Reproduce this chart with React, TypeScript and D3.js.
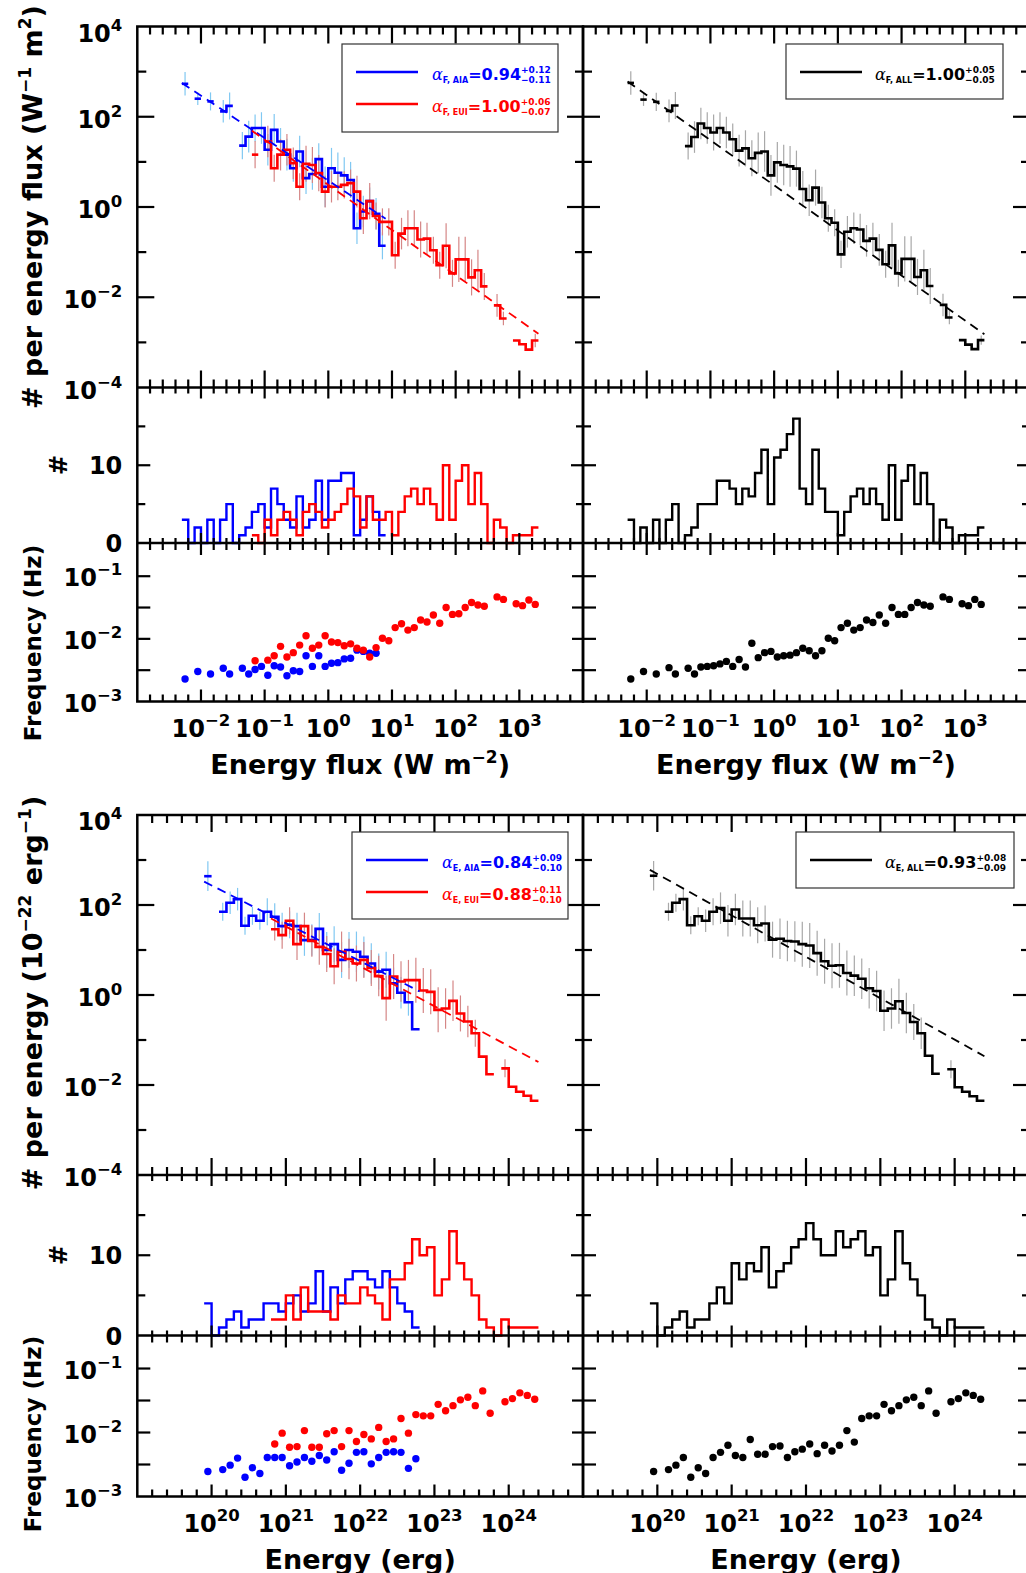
import * as d3 from 'd3';
import React from 'react';

const BIN = 0.1;
const MINUS = '\u2212';

// ---------- top block: energy flux (log10 W m^-2), bins of 0.1 dex ----------
const fluxStartAIA = -2.3;
const fluxStartEUI = -1.2;
const fluxStartALL = -2.3;

// log10 of # per energy flux
const fluxSpecAIA = [2.73, null, 2.40, null, 2.34, null, 2.12, 2.24, null, 1.36, 1.56, 1.75, 1.75, 1.27, 1.71, 1.45, 1.16, 0.86, 1.23, 0.64, 0.73, 1.06, 0.45, 0.86, 0.76, 0.70, 0.60, -0.47, -0.10, 0.13, -0.15, -0.86];
const fluxSpecEUI = [1.16, null, 1.45, 0.86, 1.16, 1.27, 0.97, 0.45, 0.96, 0.93, 0.75, 0.34, 0.45, 0.45, 0.49, 0.53, 0.34, -0.25, 0.13, -0.20, -0.33, -0.33, -1.07, -0.59, -0.47, -0.47, -0.72, -0.70, -0.96, -1.29, -0.86, -1.47, -1.16, -1.16, -1.56, -1.40, -1.76, null, -2.18, -2.47, null, -2.96, -3.04, -3.16, -2.96];
const fluxSpecALL = [2.75, null, 2.38, null, 2.33, null, 2.13, 2.25, null, 1.35, 1.55, 1.85, 1.75, 1.65, 1.75, 1.65, 1.50, 1.25, 1.30, 1.08, 1.20, 1.23, 0.70, 0.99, 0.93, 0.90, 0.85, 0.40, 0.15, 0.43, 0.10, -0.25, -0.35, -1.05, -0.55, -0.47, -0.50, -0.75, -0.70, -0.95, -1.27, -0.85, -1.47, -1.15, -1.15, -1.55, -1.40, -1.75, null, -2.17, -2.45, null, -2.95, -3.05, -3.15, -2.95];

// error bar half lengths (dex)
const fluxErrAIA = [0.26, 0, 0.14, 0, 0.2, 0, 0.25, 0.3, 0, 0.3, 0.35, 0.3, 0.35, 0.35, 0.35, 0.3, 0.35, 0.3, 0.35, 0.35, 0.35, 0.35, 0.45, 0.45, 0.45, 0.4, 0.4, 0.35, 0.35, 0.3, 0.35, 0.3];
const fluxErrEUI = [0.3, 0, 0.35, 0.3, 0.35, 0.35, 0.35, 0.3, 0.4, 0.4, 0.4, 0.35, 0.35, 0.3, 0.3, 0.3, 0.35, 0.35, 0.4, 0.3, 0.3, 0.3, 0.3, 0.35, 0.4, 0.4, 0.4, 0.35, 0.3, 0.3, 0.5, 0.3, 0.5, 0.5, 0.4, 0.45, 0.3, 0, 0.25, 0.15, 0, 0, 0, 0, 0.15];
const fluxErrALL = [0.26, 0, 0.14, 0, 0.2, 0, 0.25, 0.3, 0, 0.3, 0.35, 0.35, 0.35, 0.4, 0.35, 0.35, 0.35, 0.35, 0.4, 0.4, 0.45, 0.45, 0.45, 0.45, 0.45, 0.45, 0.4, 0.4, 0.35, 0.4, 0.35, 0.3, 0.3, 0.3, 0.35, 0.35, 0.35, 0.35, 0.35, 0.35, 0.3, 0.5, 0.3, 0.5, 0.5, 0.4, 0.45, 0.4, 0, 0.25, 0.15, 0, 0, 0, 0, 0.1];

// number of events per bin
const fluxCountAIA = [3, 0, 2, 0, 3, 0, 3, 5, 0, 1, 2, 4, 5, 2, 7, 5, 3, 2, 6, 2, 3, 8, 3, 8, 8, 9, 9, 1, 3, 6, 4, 1];
const fluxCountEUI = [1, 0, 3, 1, 3, 4, 3, 1, 4, 5, 4, 2, 3, 4, 5, 7, 6, 2, 6, 3, 3, 4, 1, 4, 6, 7, 5, 7, 5, 3, 10, 3, 8, 10, 5, 9, 5, 0, 3, 2, 0, 1, 1, 1, 2];
const fluxCountALL = [3, 0, 2, 0, 3, 0, 3, 5, 0, 1, 2, 5, 5, 5, 8, 8, 7, 5, 7, 6, 9, 12, 5, 11, 12, 14, 16, 7, 5, 12, 7, 4, 4, 1, 4, 6, 7, 5, 7, 5, 3, 10, 3, 8, 10, 5, 9, 5, 0, 3, 2, 0, 1, 1, 1, 2];

// log10 frequency (Hz)
const fluxFreqAIA = [-2.64, null, -2.52, null, -2.56, null, -2.47, -2.56, null, -2.47, -2.56, -2.49, -2.44, -2.58, -2.43, -2.45, -2.59, -2.51, -2.52, -2.27, -2.44, -2.27, -2.44, -2.39, -2.38, -2.32, -2.31, -2.18, -2.20, -2.23, -2.23, null];
const fluxFreqEUI = [-2.35, null, -2.34, -2.27, -2.12, -2.29, -2.22, -2.10, -1.95, -2.15, -2.10, -1.95, -2.05, -2.06, -2.11, -2.08, -2.15, -2.18, -2.29, -2.14, -1.99, -2.03, -1.82, -1.76, -1.86, -1.82, -1.70, -1.73, -1.62, -1.75, -1.50, -1.61, -1.60, -1.50, -1.42, -1.46, -1.48, null, -1.33, -1.37, null, -1.44, -1.47, -1.38, -1.45];
const fluxFreqALL = [-2.64, null, -2.52, null, -2.56, null, -2.46, -2.56, null, -2.47, -2.56, -2.45, -2.44, -2.43, -2.40, -2.36, -2.44, -2.33, -2.45, -2.07, -2.30, -2.22, -2.20, -2.29, -2.27, -2.26, -2.22, -2.15, -2.19, -2.27, -2.19, -1.99, -2.03, -1.82, -1.75, -1.86, -1.82, -1.70, -1.74, -1.62, -1.75, -1.50, -1.61, -1.61, -1.50, -1.42, -1.46, -1.48, null, -1.33, -1.37, null, -1.44, -1.47, -1.37, -1.45];

// power-law fits: [log x, log y] end points
const fluxFitAIA = [[-2.3, 2.75], [0.9, -0.26]];
const fluxFitEUI = [[-1.2, 1.69], [3.3, -2.81]];
const fluxFitALL = [[-2.3, 2.78], [3.3, -2.82]];

// ---------- bottom block: energy (log10 erg) ----------
const energyStartAIA = 19.9;
const energyStartEUI = 20.8;
const energyStartALL = 19.9;

const energySpecAIA = [2.64, null, 1.85, 2.05, 2.13, 1.54, 1.76, 1.65, 1.85, 1.74, 1.53, 1.56, 1.53, 1.22, 1.22, 1.47, 1.00, 1.13, 0.78, 1.00, 0.96, 0.85, 0.70, 0.52, 0.56, 0.26, 0.05, -0.16, -0.76];
const energySpecEUI = [1.46, 1.33, 1.65, 1.13, 1.53, 1.20, 1.07, 0.91, 0.64, 0.96, 0.80, 0.70, 0.78, 0.60, 0.42, -0.07, 0.41, 0.30, 0.33, 0.33, 0.10, 0.07, -0.33, -0.30, -0.13, -0.41, -0.59, -0.85, -1.37, -1.76, null, -1.63, -2.04, -2.15, -2.24, -2.35];
const energySpecALL = [2.65, null, 1.85, 2.05, 2.13, 1.55, 1.75, 1.65, 1.85, 1.93, 1.65, 1.90, 1.70, 1.70, 1.55, 1.59, 1.23, 1.25, 1.20, 1.19, 1.13, 1.10, 0.93, 0.75, 0.65, 0.66, 0.49, 0.43, 0.36, 0.15, 0.09, -0.35, -0.30, -0.14, -0.40, -0.60, -0.85, -1.35, -1.75, null, -1.65, -2.05, -2.15, -2.25, -2.35];

const energyErrAIA = [0.33, 0, 0.2, 0.25, 0.25, 0.2, 0.2, 0.2, 0.3, 0.3, 0.3, 0.3, 0.3, 0.35, 0.35, 0.35, 0.4, 0.4, 0.4, 0.4, 0.45, 0.45, 0.45, 0.4, 0.4, 0.35, 0.35, 0.3, 0];
const energyErrEUI = [0.25, 0.3, 0.3, 0.35, 0.3, 0.35, 0.4, 0.4, 0.4, 0.45, 0.45, 0.4, 0.4, 0.4, 0.45, 0.5, 0.5, 0.45, 0.45, 0.5, 0.5, 0.5, 0.5, 0.45, 0.45, 0.4, 0.35, 0.3, 0, 0, 0, 0.2, 0, 0, 0, 0];
const energyErrALL = [0.33, 0, 0.2, 0.2, 0.25, 0.2, 0.2, 0.25, 0.3, 0.35, 0.35, 0.35, 0.4, 0.4, 0.4, 0.4, 0.4, 0.45, 0.45, 0.45, 0.5, 0.5, 0.5, 0.5, 0.5, 0.5, 0.5, 0.45, 0.45, 0.45, 0.45, 0.45, 0.45, 0.5, 0.45, 0.4, 0.35, 0, 0, 0, 0.2, 0, 0, 0, 0];

const energyCountAIA = [4, 0, 1, 2, 3, 1, 2, 2, 4, 4, 3, 4, 5, 3, 4, 8, 3, 6, 4, 7, 8, 8, 7, 6, 8, 6, 4, 3, 1];
const energyCountEUI = [2, 2, 5, 2, 6, 3, 3, 3, 2, 5, 4, 4, 6, 5, 4, 2, 7, 7, 9, 12, 10, 11, 5, 7, 13, 9, 7, 5, 2, 1, 0, 2, 1, 1, 1, 1];
const energyCountALL = [4, 0, 1, 2, 3, 1, 2, 2, 4, 6, 4, 9, 7, 9, 8, 11, 6, 8, 9, 11, 12, 14, 12, 10, 10, 13, 11, 12, 13, 10, 11, 5, 7, 13, 9, 7, 5, 2, 1, 0, 2, 1, 1, 1, 1];

const energyFreqAIA = [-2.61, null, -2.58, -2.51, -2.40, -2.70, -2.55, -2.64, -2.39, -2.39, -2.39, -2.52, -2.46, -2.39, -2.45, -2.36, -2.43, -2.30, -2.59, -2.48, -2.31, -2.30, -2.49, -2.39, -2.31, -2.30, -2.31, -2.56, -2.41];
const energyFreqEUI = [-2.18, -2.01, -2.23, -2.22, -1.97, -2.23, -2.23, -2.02, -1.97, -2.22, -1.97, -2.14, -2.03, -2.10, -1.92, -2.14, -2.10, -1.78, -2.01, -1.72, -1.74, -1.74, -1.56, -1.66, -1.58, -1.49, -1.45, -1.58, -1.35, -1.70, null, -1.52, -1.47, -1.38, -1.42, -1.48];
const energyFreqALL = [-2.61, null, -2.58, -2.51, -2.39, -2.70, -2.55, -2.64, -2.39, -2.31, -2.20, -2.36, -2.39, -2.11, -2.34, -2.34, -2.22, -2.21, -2.39, -2.30, -2.26, -2.18, -2.33, -2.20, -2.29, -2.20, -1.97, -2.15, -1.78, -1.74, -1.74, -1.56, -1.66, -1.58, -1.49, -1.45, -1.58, -1.35, -1.70, null, -1.52, -1.47, -1.38, -1.42, -1.48];

const energyFitAIA = [[19.9, 2.52], [22.8, 0.08]];
const energyFitEUI = [[20.8, 1.70], [24.4, -1.49]];
const energyFitALL = [[19.9, 2.78], [24.4, -1.36]];

// ---------- labels ----------
const fluxTickExps = [-2, -1, 0, 1, 2, 3];
const energyTickExps = [20, 21, 22, 23, 24];
const specTickExps = [4, 2, 0, -2, -4];
const histTickLabels = [10, 0];
const freqTickExps = [-1, -2, -3];

const legendFlux = [
  { sub: 'F, AIA', val: '=0.94', up: '+0.12', dn: MINUS + '0.11' },
  { sub: 'F, EUI', val: '=1.00', up: '+0.06', dn: MINUS + '0.07' },
];
const legendFluxAll = [{ sub: 'F, ALL', val: '=1.00', up: '+0.05', dn: MINUS + '0.05' }];
const legendEnergy = [
  { sub: 'E, AIA', val: '=0.84', up: '+0.09', dn: MINUS + '0.10' },
  { sub: 'E, EUI', val: '=0.88', up: '+0.11', dn: MINUS + '0.10' },
];
const legendEnergyAll = [{ sub: 'E, ALL', val: '=0.93', up: '+0.08', dn: MINUS + '0.09' }];

const FONT = "'DejaVu Sans', Verdana, sans-serif";
const BLUE = '#0000ff';
const RED = '#ff0000';

const mk = (start, spec, err, count, freq, fit, color, errColor) =>
  ({ start, spec, err, count, freq, fit, color, errColor });

const fluxAIA = mk(fluxStartAIA, fluxSpecAIA, fluxErrAIA, fluxCountAIA, fluxFreqAIA, fluxFitAIA, BLUE, '#80c8f2');
const fluxEUI = mk(fluxStartEUI, fluxSpecEUI, fluxErrEUI, fluxCountEUI, fluxFreqEUI, fluxFitEUI, RED, '#d58686');
const fluxALL = mk(fluxStartALL, fluxSpecALL, fluxErrALL, fluxCountALL, fluxFreqALL, fluxFitALL, '#000000', '#a8a8a8');
const energyAIA = mk(energyStartAIA, energySpecAIA, energyErrAIA, energyCountAIA, energyFreqAIA, energyFitAIA, BLUE, '#80c8f2');
const energyEUI = mk(energyStartEUI, energySpecEUI, energyErrEUI, energyCountEUI, energyFreqEUI, energyFitEUI, RED, '#d58686');
const energyALL = mk(energyStartALL, energySpecALL, energyErrALL, energyCountALL, energyFreqALL, energyFitALL, '#000000', '#a8a8a8');

const fmt = (e) => (e < 0 ? MINUS + Math.abs(e) : String(e));

function Pow({ x, y, e, anchor }) {
  return (
    <text x={x} y={y} textAnchor={anchor} fontFamily={FONT} fontWeight="bold" fontSize={24}>
      10<tspan dy={-11} fontSize={16.5}>{fmt(e)}</tspan>
    </text>
  );
}

function Legend({ box, entries, colors }) {
  return (
    <g>
      <rect x={box.x} y={box.y} width={box.w} height={box.h} fill="white" stroke="#333" strokeWidth={1.2} />
      {entries.map((en, i) => {
        const ly = box.y + 28 + i * 32;
        return (
          <g key={i}>
            <line x1={box.x + 14} x2={box.x + 76} y1={ly} y2={ly} stroke={colors[i]} strokeWidth={2.6} />
            <text x={box.tx} y={ly + 8} fill={colors[i]} fontFamily={FONT} fontWeight="bold">
              <tspan fontFamily="'DejaVu Serif', serif" fontStyle="italic" fontWeight="normal" fontSize={16}>α</tspan>
              <tspan fontSize={8} dy={3}>{en.sub}</tspan>
              <tspan fontSize={16} dy={-3}>{en.val}</tspan>
              <tspan fontSize={9} dy={-7}>{en.up}</tspan>
              <tspan fontSize={9} dy={10} dx={-3.306 * 9}>{en.dn}</tspan>
            </text>
          </g>
        );
      })}
    </g>
  );
}

function Panel({ rows, x0, x1, xDom, series, tickExps, xTitle, showY, legend }) {
  const xl = d3.scaleLog().domain([10 ** xDom[0], 10 ** xDom[1]]).range([x0, x1]);
  const X = (e) => xl(10 ** e);
  const ysl = d3.scaleLog().domain([1e-4, 1e4]).range([rows.spec, rows.top]);
  const YS = (e) => ysl(10 ** e);
  const yh = d3.scaleLinear().domain([0, 20]).range([rows.hist, rows.spec]);
  const yfl = d3.scaleLog().domain([1e-3, 10 ** rows.freqMax]).range([rows.freq, rows.hist]);
  const YF = (e) => yfl(10 ** e);

  const specLine = d3.line().x((d) => X(d[0])).y((d) => YS(d[1]));
  const histLine = d3.line().x((d) => X(d[0])).y((d) => yh(d[1]));

  const specRuns = (s) => {
    const runs = [];
    let cur = null;
    s.spec.forEach((v, i) => {
      if (v == null) { cur = null; return; }
      if (!cur) { cur = []; runs.push(cur); }
      const a = s.start + i * BIN;
      cur.push([a, v], [a + BIN, v]);
    });
    return runs;
  };
  const histPts = (s) => {
    const pts = [];
    s.count.forEach((c, i) => {
      const a = s.start + i * BIN;
      pts.push([a, c], [a + BIN, c]);
    });
    return pts;
  };

  const xt = d3.range(Math.round(xDom[0] * 5) + 1, Math.round(xDom[1] * 5)).map((k) => ({ e: k / 5, maj: k % 5 === 0 }));
  const xRows = [
    { y: rows.top, d: 1, a: 17, b: 8 },
    { y: rows.spec, d: -1, a: 17, b: 8 },
    { y: rows.spec, d: 1, a: 11, b: 6 },
    { y: rows.hist, d: -1, a: 10, b: 5 },
    { y: rows.hist, d: 1, a: 12, b: 7 },
    { y: rows.freq, d: -1, a: 12, b: 7 },
  ];
  const yTicks = [
    ...d3.range(-3, 4).map((e) => ({ y: YS(e), l: e % 2 === 0 ? 17 : 9, r: e % 2 === 0 ? 16 : 8 })),
    ...[5, 10, 15].map((v) => ({ y: yh(v), l: v === 10 ? 13 : 8, r: v === 10 ? 12 : 7 })),
    ...[-1, -1.5, -2, -2.5].map((e) => ({ y: YF(e), l: 13, r: 11 })),
  ];

  const cx = (x0 + x1) / 2;
  return (
    <g>
      {/* error bars */}
      {series.map((s, si) => (
        <g key={'e' + si} stroke={s.errColor} strokeWidth={1.2}>
          {s.spec.map((v, i) => (v == null || !s.err[i]) ? null : (
            <line key={i} x1={X(s.start + (i + 0.5) * BIN)} x2={X(s.start + (i + 0.5) * BIN)}
              y1={YS(v - s.err[i])} y2={YS(v + s.err[i])} />
          ))}
        </g>
      ))}
      {/* spectra */}
      {series.map((s, si) => (
        <g key={'s' + si}>
          {specRuns(s).map((r, ri) => (
            <path key={ri} d={specLine(r)} fill="none" stroke={s.color} strokeWidth={2.6} strokeLinejoin="miter" />
          ))}
        </g>
      ))}
      {series.map((s, si) => (
        <path key={'f' + si} d={specLine(s.fit)} fill="none" stroke={s.color} strokeWidth={1.8} strokeDasharray="9 6" />
      ))}
      {/* histograms */}
      {series.map((s, si) => (
        <path key={'h' + si} d={histLine(histPts(s))} fill="none" stroke={s.color} strokeWidth={2.4} />
      ))}
      {/* frequencies */}
      {series.map((s, si) => (
        <g key={'q' + si} fill={s.color}>
          {s.freq.map((v, i) => v == null ? null : (
            <circle key={i} cx={X(s.start + (i + 0.5) * BIN)} cy={YF(v)} r={3.7} />
          ))}
        </g>
      ))}
      {/* frame */}
      <g stroke="black" strokeWidth={2.5} fill="none">
        <rect x={x0} y={rows.top} width={x1 - x0} height={rows.freq - rows.top} />
        <line x1={x0} x2={x1} y1={rows.spec} y2={rows.spec} />
        <line x1={x0} x2={x1} y1={rows.hist} y2={rows.hist} />
      </g>
      <g stroke="black" strokeWidth={2.2}>
        {xRows.map((r, ri) => xt.map((t, ti) => (
          <line key={ri + '-' + ti} x1={X(t.e)} x2={X(t.e)} y1={r.y} y2={r.y + r.d * (t.maj ? r.a : r.b)} />
        )))}
        {yTicks.map((t, i) => (
          <g key={'y' + i}>
            <line x1={x0} x2={x0 + t.l} y1={t.y} y2={t.y} />
            <line x1={x1} x2={x1 - t.r} y1={t.y} y2={t.y} />
          </g>
        ))}
      </g>
      {/* tick labels */}
      {tickExps.map((e) => <Pow key={e} x={X(e)} y={rows.freq + 35.5} e={e} anchor="middle" />)}
      <text x={cx} y={rows.freq + 72} textAnchor="middle" fontFamily={FONT} fontWeight="bold" fontSize={27}>
        {xTitle}
      </text>
      {showY && specTickExps.map((e) => (
        <Pow key={'s' + e} x={x0 - 15} y={YS(e) + (e === 4 ? 15 : 11)} e={e} anchor="end" />
      ))}
      {showY && histTickLabels.map((v) => (
        <text key={'h' + v} x={x0 - 15} y={yh(v) + 9} textAnchor="end" fontFamily={FONT} fontWeight="bold" fontSize={24}>{v}</text>
      ))}
      {showY && freqTickExps.map((e) => (
        <Pow key={'f' + e} x={x0 - 15} y={YF(e) + 10} e={e} anchor="end" />
      ))}
      {legend}
    </g>
  );
}

function YTitle({ x, y, size, children }) {
  return (
    <text transform={`translate(${x},${y}) rotate(-90)`} textAnchor="middle" fontFamily={FONT} fontWeight="bold" fontSize={size}>
      {children}
    </text>
  );
}

const Sup = ({ children }) => <tspan dy={-11} fontSize={17}>{children}</tspan>;
const Base = ({ children }) => <tspan dy={11}>{children}</tspan>;

export default function App() {
  const topRows = { top: 26.5, spec: 387.5, hist: 543, freq: 701.5, freqMax: -0.47 };
  const botRows = { top: 815, spec: 1175, hist: 1335.5, freq: 1496.5, freqMax: -0.484 };
  const L = [137.3, 583];
  const R = [583, 1029];
  const fluxTitle = <>Energy flux (W m<Sup>{MINUS}2</Sup><Base>)</Base></>;
  return (
    <svg width={1026} height={1573} style={{ position: 'absolute', left: 0, top: 0, background: 'white' }}>
      <rect width={1026} height={1573} fill="white" />
      <Panel rows={topRows} x0={L[0]} x1={L[1]} xDom={[-3, 4]} series={[fluxAIA, fluxEUI]} tickExps={fluxTickExps}
        xTitle={fluxTitle} showY
        legend={<Legend box={{ x: 342, y: 44, w: 216, h: 88, tx: 432 }} entries={legendFlux} colors={[BLUE, RED]} />} />
      <Panel rows={topRows} x0={R[0]} x1={R[1]} xDom={[-3, 4]} series={[fluxALL]} tickExps={fluxTickExps}
        xTitle={fluxTitle} showY={false}
        legend={<Legend box={{ x: 786, y: 44, w: 217, h: 55, tx: 875 }} entries={legendFluxAll} colors={['#000']} />} />
      <Panel rows={botRows} x0={L[0]} x1={L[1]} xDom={[19, 25]} series={[energyAIA, energyEUI]} tickExps={energyTickExps}
        xTitle="Energy (erg)" showY
        legend={<Legend box={{ x: 352, y: 832, w: 216, h: 87, tx: 442 }} entries={legendEnergy} colors={[BLUE, RED]} />} />
      <Panel rows={botRows} x0={R[0]} x1={R[1]} xDom={[19, 25]} series={[energyALL]} tickExps={energyTickExps}
        xTitle="Energy (erg)" showY={false}
        legend={<Legend box={{ x: 796, y: 832, w: 218, h: 56, tx: 885 }} entries={legendEnergyAll} colors={['#000']} />} />

      <YTitle x={42} y={207} size={27}># per energy flux (W<Sup>{MINUS}1</Sup><Base> m</Base><Sup>2</Sup><Base>)</Base></YTitle>
      <YTitle x={67} y={465} size={24}>#</YTitle>
      <YTitle x={41} y={643} size={23}>Frequency (Hz)</YTitle>
      <YTitle x={42} y={993} size={27}># per energy (10<Sup>{MINUS}22</Sup><Base> erg</Base><Sup>{MINUS}1</Sup><Base>)</Base></YTitle>
      <YTitle x={67} y={1255} size={24}>#</YTitle>
      <YTitle x={41} y={1434} size={23}>Frequency (Hz)</YTitle>
    </svg>
  );
}
